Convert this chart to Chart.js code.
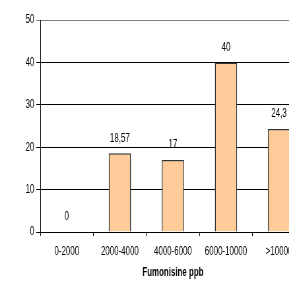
<!DOCTYPE html>
<html>
<head>
<meta charset="utf-8">
<script src="https://cdn.jsdelivr.net/npm/chart.js@4/dist/chart.umd.min.js"></script>
<style>
  html, body { margin: 0; padding: 0; background: #fff; overflow: hidden; }
  body { width: 289px; height: 285px; }
  /* il grafico originale è compresso in orizzontale */
  #wrap { width: 463px; height: 285px; transform: scaleX(0.66); transform-origin: 0 0; }
</style>
</head>
<body>
<div id="wrap"><canvas id="chart" width="463" height="285"></canvas></div>
<script>
// valori
const categorie = ['0-2000', '2000-4000', '4000-6000', '6000-10000', '>10000'];
const valori = [0, 18.57, 17, 40, 24.3];
const etichette = ['0', '18,57', '17', '40', '24,3'];
const tickY = [0, 10, 20, 30, 40, 50];

const FONT = '"Liberation Sans", Arial, sans-serif';

// etichette sopra le barre
const etichettePlugin = {
    id: 'etichette',
    afterDatasetsDraw(chart) {
        const ctx = chart.ctx;
        const meta = chart.getDatasetMeta(0);
        ctx.save();
        ctx.font = '12px ' + FONT;
        ctx.fillStyle = '#000';
        ctx.textAlign = 'center';
        ctx.textBaseline = 'middle';
        meta.data.forEach((bar, i) => {
            ctx.fillText(etichette[i], bar.x, bar.y - 15);
        });
        ctx.restore();
    }
};

new Chart(document.getElementById('chart'), {
    type: 'bar',
    data: {
        labels: categorie,
        datasets: [{
            data: valori,
            backgroundColor: '#FFCC99',
            borderColor: '#333',
            borderWidth: 1.5,
            borderSkipped: 'bottom',
            categoryPercentage: 1,
            barPercentage: 0.42
        }]
    },
    options: {
        responsive: false,
        animation: false,
        layout: { padding: { top: 20, right: 0, left: 0, bottom: 0 } },
        plugins: {
            legend: { display: false },
            tooltip: { enabled: false }
        },
        scales: {
            x: {
                afterFit: s => { s.height = 53; },
                border: { color: '#000', width: 1 },
                grid: { drawOnChartArea: false, drawTicks: true, tickLength: 4, color: '#000' },
                ticks: { color: '#000', padding: 8, font: { size: 12, family: FONT }, maxRotation: 0, autoSkip: false },
                title: {
                    display: true,
                    text: 'Fumonisine ppb',
                    color: '#000',
                    font: { size: 12, weight: 'bold', family: FONT },
                    padding: { top: 0, bottom: 5 }
                }
            },
            y: {
                min: 0,
                max: 50,
                afterFit: s => { s.width = 61; },
                afterBuildTicks: s => { s.ticks = tickY.map(v => ({ value: v })); },
                border: { color: '#000', width: 1 },
                grid: {
                    color: c => (c.tick && c.tick.value === 50 ? '#808080' : '#000'),
                    tickLength: 6,
                    drawTicks: true
                },
                ticks: { color: '#000', padding: 3, font: { size: 12, family: FONT } }
            }
        }
    },
    plugins: [etichettePlugin]
});
</script>
</body>
</html>
